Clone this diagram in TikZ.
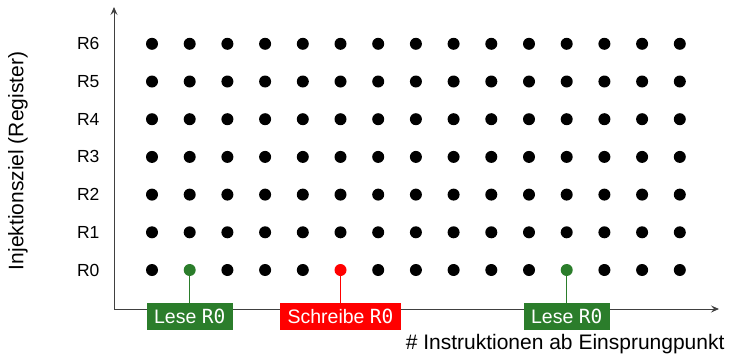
\documentclass[tikz,border=0pt]{standalone}
\usepackage{fontspec}
\setmainfont{Liberation Sans}
\newfontfamily\monofont{DejaVu Sans Mono}
\usetikzlibrary{arrows.meta}
\definecolor{lesegreen}{RGB}{43,125,43}
\definecolor{schreibred}{RGB}{255,0,0}
\tikzstyle{dot}=[circle,fill=black,inner sep=0pt,minimum size=12pt]
\tikzstyle{axis}=[draw=black!75,line width=1pt,-{Stealth[length=8pt,width=7pt,inset=3pt]}]
\tikzstyle{reglabel}=[anchor=east,font=\fontsize{17.5}{20}\selectfont]
\tikzstyle{axislabel}=[font=\fontsize{21}{24}\selectfont]
\tikzstyle{marker}=[text=white,inner xsep=7.5pt,minimum height=27pt,font=\fontsize{19.5}{22}\selectfont]
\tikzstyle{stem}=[line width=1.5pt]

\begin{document}
\begin{tikzpicture}[x=1pt,y=-1pt]
    \useasboundingbox (0,0) rectangle (731,357);
    % Axes first, the markers cover them
    \coordinate (origin) at (114,309);
    \coordinate (ytip) at (114,7);
    \coordinate (xtip) at (719,309);
    \draw[axis] (origin) -- (ytip);
    \draw[axis] (origin) -- (xtip);
    \node[axislabel,rotate=90] (ylabel) at (18,161) {Injektionsziel (Register)};
    \node[axislabel,anchor=east] (xlabel) at (728,344) {\# Instruktionen ab Einsprungpunkt};
    % Register names
    \foreach \j in {0,...,6}
        \node[reglabel] (r\j) at (103,{270-37.7*\j}) {R\j};
    % The grid of injection points, row R0 is drawn below
    \foreach \i in {0,...,14}
        \foreach \j in {1,...,6}
            \node[dot] (d\i-\j) at ({152+37.7*\i},{270-37.7*\j}) {};
    \foreach \i/\col in {0/black, 1/lesegreen, 2/black, 3/black, 4/black,
                         5/schreibred, 6/black, 7/black, 8/black, 9/black,
                         10/black, 11/lesegreen, 12/black, 13/black, 14/black}
        \node[dot,fill=\col] (d\i-0) at ({152+37.7*\i},270) {};
    % Accesses to R0
    \foreach \i/\name/\col/\txt in {1/lese1/lesegreen/Lese, 5/schreib/schreibred/Schreibe,
                                    11/lese2/lesegreen/Lese}
    {
        \node[marker,fill=\col] (\name) at ({152+37.7*\i},316.5) {\txt\ {\monofont R0}};
        \draw[stem,\col] (d\i-0) -- (\name);
    }
\end{tikzpicture}
\end{document}
